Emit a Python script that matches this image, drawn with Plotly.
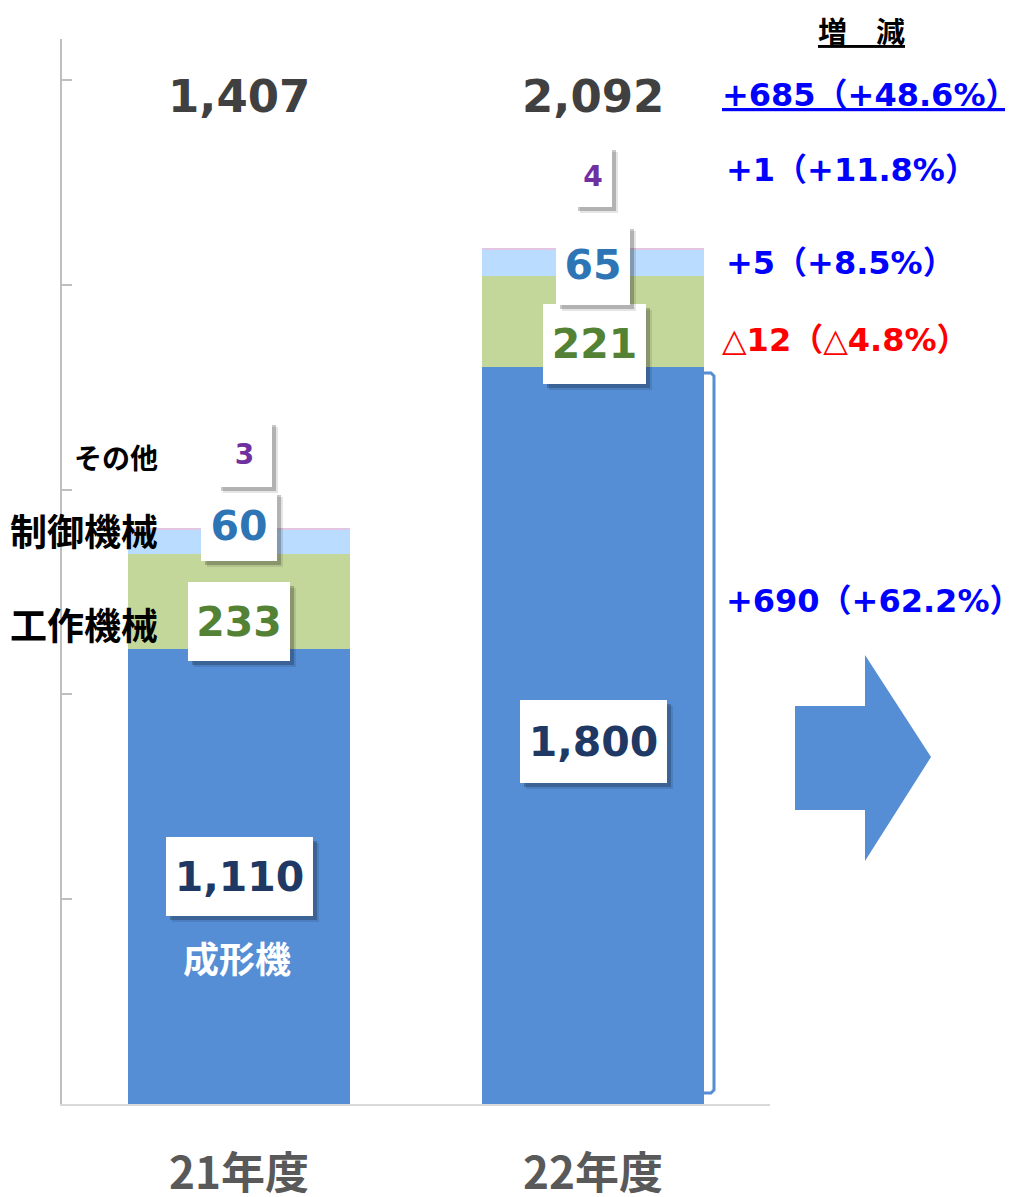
import plotly.graph_objects as go

# ---------------- data ----------------
categories = ["21年度", "22年度"]
seikeiki = [1110, 1800]   # 成形機
kousaku = [233, 221]      # 工作機械
seigyo = [60, 65]         # 制御機械
sonota = [3, 4]           # その他
totals = [1407, 2092]
change_title = "増　減"
change_labels = ["+685（+48.6%）", "+1（+11.8%）", "+5（+8.5%）", "△12（△4.8%）", "+690（+62.2%）"]
segment_names = ["成形機", "工作機械", "制御機械", "その他"]

# ---------------- layout constants ----------------
OFF = 8  # page body margin
W, H = 1013 - OFF, 1197 - OFF
ML, MR, MT, MB = 62 - OFF, 243, 39 - OFF, 93
PW, PH = W - ML - MR, H - MT - MB
BASE = 1197 - MB  # screen y of the zero line

def xp(px):
    return (px - OFF - ML) / PW

def yp(py):
    return (BASE - py) / PH

NUM_FONT = "DejaVu Sans, Noto Sans CJK JP"
JP_FONT = "Noto Sans CJK JP"

C_BLUE = "#558ED5"
C_GREEN = "#C4D79B"
C_LBLUE = "#B9DCFF"
C_OTHER = "#E3C6E3"

fig = go.Figure()
series = [seikeiki, kousaku, seigyo, sonota]
colors = [C_BLUE, C_GREEN, C_LBLUE, C_OTHER]
for name, vals, col in zip(segment_names, series, colors):
    fig.add_trace(go.Bar(x=categories, y=vals, name=name, marker=dict(color=col, line=dict(width=0)),
                         width=0.625, hoverinfo="skip"))

annotations = []

# value labels with white boxes and shadows
label_colors = ["#203864", "#548235", "#2E75B6", "#7030A0"]
label_sizes = [41, 41, 41, 28]
box_sizes = [[(147, 79), (147, 83)], [(102, 79), (103, 80)], [(76, 70), (74, 80)], [(55, 66), (38, 61)]]
y_shifts = [[0, -6], [-20, -23], [16, -2], [75, 72]]
x_shifts = [[0, 0], [0, 1], [0, 0], [5, 0]]

for ci, cat in enumerate(categories):
    bottom = 0
    for si, vals in enumerate(series):
        v = vals[ci]
        mid = bottom + v / 2
        bottom += v
        bw, bh = box_sizes[si][ci]
        common = dict(x=cat, y=mid, xref="x", yref="y", showarrow=False,
                      width=bw, height=bh, borderpad=0, borderwidth=0)
        # shadow layers
        annotations.append(dict(text="", bgcolor="rgba(0,0,0,0.10)",
                                xshift=x_shifts[si][ci] + 6, yshift=y_shifts[si][ci] - 6, **common))
        annotations.append(dict(text="", bgcolor="rgba(0,0,0,0.22)",
                                xshift=x_shifts[si][ci] + 4, yshift=y_shifts[si][ci] - 4, **common))
        annotations.append(dict(text=f"<b>{v:,}</b>", bgcolor="white",
                                font=dict(family=NUM_FONT, size=label_sizes[si], color=label_colors[si]),
                                xshift=x_shifts[si][ci], yshift=y_shifts[si][ci], **common))

# 成形機 label inside first bar
annotations.append(dict(x=categories[0], y=seikeiki[0] / 2, xref="x", yref="y", showarrow=False,
                        text=f"<b>{segment_names[0]}</b>", yshift=-80, xshift=-2,
                        font=dict(family=JP_FONT, size=36, color="white")))

# left segment names
left_rows = [(segment_names[3], 457, 28), (segment_names[2], 530, 37), (segment_names[1], 624, 37)]
for txt, py, fs in left_rows:
    annotations.append(dict(x=xp(160), y=yp(py), xref="paper", yref="paper", showarrow=False,
                            xanchor="right", yanchor="middle", text=f"<b>{txt}</b>",
                            font=dict(family=JP_FONT, size=fs, color="black")))

# totals
for cat, t in zip(categories, totals):
    annotations.append(dict(x=cat, y=yp(96), xref="x", yref="paper", showarrow=False,
                            yanchor="middle", text=f"<b>{t:,}</b>",
                            font=dict(family=NUM_FONT, size=45, color="#404040")))

# change column
annotations.append(dict(x=xp(861), y=yp(30), xref="paper", yref="paper", showarrow=False,
                        xanchor="center", yanchor="middle", text=f"<b><u>{change_title}</u></b>",
                        font=dict(family=JP_FONT, size=29, color="black")))
change_rows = [(95, 720, "#0000FF", True), (170, 724, "#0000FF", False), (263, 724, "#0000FF", False),
               (340, 720, "#FF0000", False), (601, 724, "#0000FF", False)]
for txt, (py, px, col, ul) in zip(change_labels, change_rows):
    t = f"<b>{txt}</b>"
    if ul:
        t = f"<u>{t}</u>"
    annotations.append(dict(x=xp(px), y=yp(py), xref="paper", yref="paper", showarrow=False,
                            xanchor="left", yanchor="middle", text=t,
                            font=dict(family=NUM_FONT, size=32, color=col)))

# shapes: bracket and block arrow
def path(points, close=False):
    s = ""
    for i, (px, py) in enumerate(points):
        s += ("M " if i == 0 else " L ") + f"{xp(px):.5f},{yp(py):.5f}"
    if close:
        s += " Z"
    return s

bracket = path([(704, 373), (711, 373), (714, 376), (714, 1090), (711, 1093), (704, 1093)])
arrow = path([(795, 706), (865, 706), (865, 655), (931, 757), (865, 861), (865, 810), (795, 810)], close=True)

shapes = [
    dict(type="path", path=bracket, xref="paper", yref="paper", line=dict(color=C_BLUE, width=3)),
    dict(type="path", path=arrow, xref="paper", yref="paper", fillcolor=C_BLUE, line=dict(width=0)),
]

fig.update_layout(
    barmode="stack",
    width=W, height=H,
    margin=dict(l=ML, r=MR, t=MT, b=MB, autoexpand=False),
    paper_bgcolor="white", plot_bgcolor="white",
    showlegend=False,
    annotations=annotations,
    shapes=shapes,
    bargap=0.375,
    xaxis=dict(showline=True, linecolor="#D9D9D9", linewidth=2, showgrid=False, zeroline=False,
               ticks="", tickmode="array", tickvals=categories,
               ticktext=[f"<b>{c}</b>" for c in categories],
               tickfont=dict(family=JP_FONT, size=44, color="#595959"),
               ticklabelstandoff=30, automargin=False, fixedrange=True),
    yaxis=dict(range=[0, 2600], showline=True, linecolor="#BFBFBF", linewidth=2, showgrid=False,
               zeroline=False, ticks="inside", ticklen=10, tickwidth=2, tickcolor="#BFBFBF",
               dtick=500, tick0=0, showticklabels=False, automargin=False, fixedrange=True),
)

fig.write_html("out.html")
